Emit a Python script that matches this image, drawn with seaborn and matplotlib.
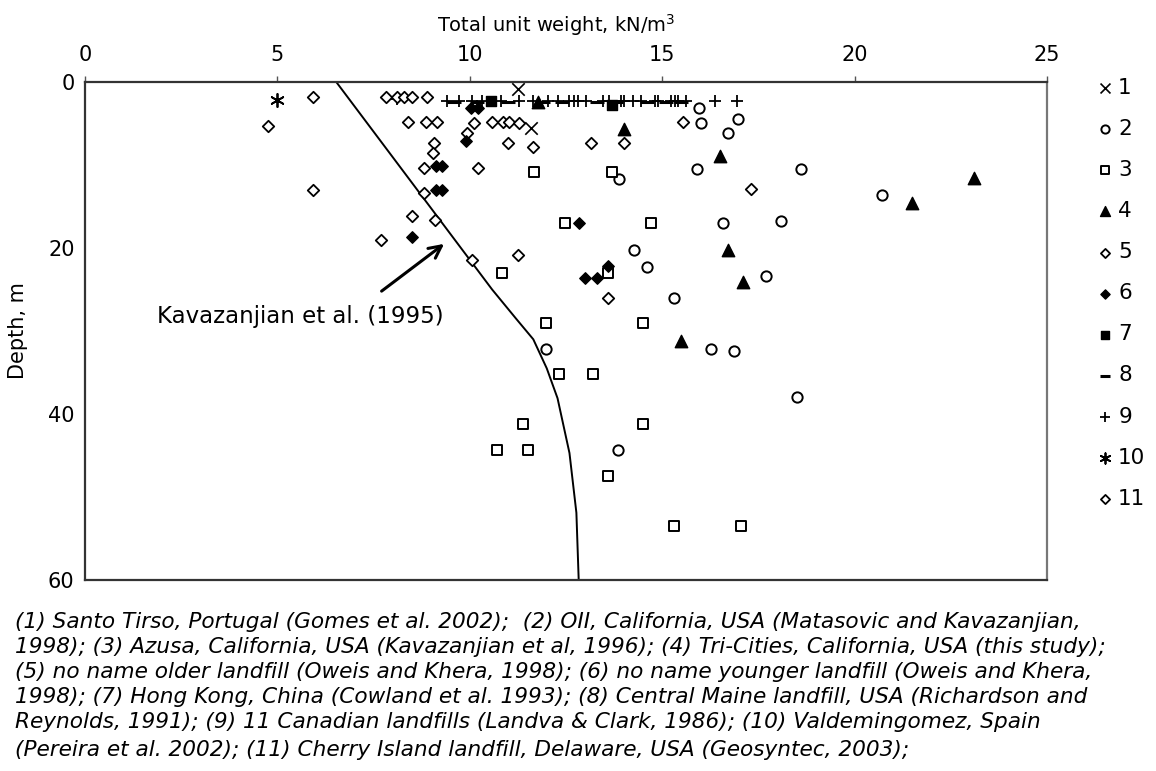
import matplotlib
matplotlib.use("Agg")
import matplotlib.pyplot as plt
import pandas as pd
import seaborn as sns

sns.set_style("white")
plt.rcParams['font.family'] = ['DejaVu Sans']
plt.rcParams['text.color'] = 'black'
plt.rcParams['axes.labelcolor'] = 'black'
plt.rcParams['xtick.color'] = 'black'
plt.rcParams['ytick.color'] = 'black'

# ---- data: total unit weight (kN/m3) and depth (m) per landfill ----
s1_w = [11.26, 11.6]
s1_d = [0.8, 5.5]

s2_w = [15.95, 16.0, 16.7, 16.96, 15.9, 13.87, 18.6, 20.7, 16.57, 18.08, 14.28,
        14.6, 17.7, 15.3, 11.97, 16.26, 16.86, 18.5, 13.84]
s2_d = [3.1, 4.9, 6.1, 4.5, 10.5, 11.7, 10.5, 13.6, 17.0, 16.7, 20.2,
        22.3, 23.4, 26.0, 32.2, 32.2, 32.4, 37.9, 44.3]

s3_w = [11.68, 13.7, 12.48, 14.7, 10.84, 13.58, 11.97, 14.5, 12.33, 13.2, 11.37,
        10.7, 11.5, 14.5, 13.58, 15.3, 17.06]
s3_d = [10.8, 10.8, 17.0, 17.0, 23.0, 23.0, 29.0, 29.0, 35.2, 35.2, 41.2,
        44.3, 44.3, 41.2, 47.5, 53.5, 53.5]

s4_w = [11.77, 14.0, 16.5, 23.1, 21.5, 16.7, 17.1, 15.5]
s4_d = [2.4, 5.7, 8.9, 11.6, 14.6, 20.2, 24.1, 31.2]

s5_w = [4.76, 5.93, 8.4, 8.85, 9.16, 10.12, 10.58, 10.85, 11.03, 11.29, 9.94,
        9.08, 9.05, 8.82, 10.22, 11.0, 11.65, 13.16, 14.0, 15.53, 17.3, 8.82,
        8.5, 9.1, 7.7, 10.07, 11.24, 13.6]
s5_d = [5.3, 13.0, 4.8, 4.8, 4.8, 4.9, 4.8, 4.8, 4.8, 4.9, 6.2,
        7.3, 8.6, 10.4, 10.4, 7.3, 7.8, 7.3, 7.3, 4.8, 12.9, 13.4,
        16.1, 16.6, 19.0, 21.4, 20.8, 26.0]

s6_w = [10.04, 10.22, 9.9, 9.13, 9.29, 9.13, 9.29, 8.5, 12.83, 13.0, 13.3, 13.6]
s6_d = [3.1, 3.1, 7.1, 10.1, 10.1, 13.0, 13.0, 18.7, 17.0, 23.6, 23.6, 22.2]

s7_w = [10.56, 13.7]
s7_d = [2.3, 2.8]

s8_w = [9.6, 10.2, 11.0, 11.9, 12.4, 13.3, 13.8, 14.6, 15.1, 15.5]
s8_d = [2.4, 2.4, 2.4, 2.4, 2.4, 2.4, 2.4, 2.4, 2.4, 2.4]

s9_w = [8.12, 9.42, 9.73, 10.07, 10.33, 10.8, 11.29, 11.63, 12.02, 12.28, 12.59,
        12.72, 12.8, 13.03, 13.45, 13.63, 13.94, 14.02, 14.23, 14.46, 14.8,
        14.88, 15.24, 15.32, 15.4, 15.63, 16.36, 16.94]
s9_d = [2.1] + [2.3] * 27

s10_w = [5.0]
s10_d = [2.2]

s11_w = [5.93, 7.83, 8.12, 8.3, 8.5, 8.9]
s11_d = [1.8, 1.8, 1.8, 1.8, 1.8, 1.8]

# Kavazanjian et al. (1995) unit weight profile
kav_w = [6.53, 7.34, 8.15, 8.96, 9.77, 10.58, 11.2, 11.65, 12.0, 12.28, 12.59, 12.77, 12.83]
kav_d = [0, 5, 10, 15, 20, 25, 28.5, 31.0, 34.5, 38.1, 44.7, 51.9, 60.0]

labels = ["1", "2", "3", "4", "5", "6", "7", "8", "9", "10", "11"]
series_w = [s1_w, s2_w, s3_w, s4_w, s5_w, s6_w, s7_w, s8_w, s9_w, s10_w, s11_w]
series_d = [s1_d, s2_d, s3_d, s4_d, s5_d, s6_d, s7_d, s8_d, s9_d, s10_d, s11_d]

# marker, face colour, size, line width
styles = {
    "1": ("x", "black", 80, 1.2),
    "2": ("o", "white", 55, 1.4),
    "3": ("s", "white", 55, 1.4),
    "4": ("^", "black", 80, 1.0),
    "5": ("D", "white", 34, 1.3),
    "6": ("D", "black", 34, 1.0),
    "7": ("s", "black", 60, 1.0),
    "8": ("_", "black", 90, 2.2),
    "9": ("+", "black", 80, 1.3),
    "10": ((6, 2, 0), "black", 90, 1.3),
    "11": ("D", "white", 34, 1.3),
}

fig = plt.figure(figsize=(11.56, 7.71), dpi=100)
ax = fig.add_axes([85 / 1156, 1 - 580 / 771, (1047 - 85) / 1156, (580 - 82) / 771])

sns.lineplot(x=kav_w, y=kav_d, ax=ax, color="black", lw=1.4, sort=False,
             estimator=None, legend=False)

for lab, w, d in zip(labels, series_w, series_d):
    mk, fc, sz, lw = styles[lab]
    df = pd.DataFrame({"w": w, "d": d})
    if fc == "white":
        sns.scatterplot(data=df, x="w", y="d", ax=ax, marker=mk, s=sz,
                        facecolor="white", edgecolor="black", linewidth=lw,
                        label=lab, zorder=3)
    else:
        sns.scatterplot(data=df, x="w", y="d", ax=ax, marker=mk, s=sz,
                        color="black", edgecolor="black", linewidth=lw,
                        label=lab, zorder=3)

ax.set_xlim(0, 25)
ax.set_ylim(60, 0)
ax.set_xticks([0, 5, 10, 15, 20, 25])
ax.set_yticks([0, 20, 40, 60])
ax.xaxis.tick_top()
ax.xaxis.set_label_position("top")
ax.tick_params(axis="both", labelsize=15, length=4, width=1, color="#555555",
               direction="out")
ax.tick_params(axis="x", pad=8)
ax.set_xlabel("Total unit weight, kN/m$^3$", fontsize=14)
ax.xaxis.set_label_coords(0.49, 1.10)
ax.set_ylabel("Depth, m", fontsize=15)
ax.yaxis.set_label_coords(-0.059, 0.5)
for sp in ax.spines.values():
    sp.set_visible(True)
    sp.set_color("#333333")
    sp.set_linewidth(1.6)
ax.spines["right"].set_color("#777777")

ax.annotate("", xy=(9.39, 19.3), xytext=(7.65, 25.4),
            arrowprops=dict(arrowstyle="->", lw=2.2, color="black",
                            mutation_scale=22))
ax.text(5.6, 28.3, "Kavazanjian et al. (1995)", fontsize=16.5,
        ha="center", va="center")

leg = ax.legend(loc="upper left", bbox_to_anchor=(1088 / 1156, 1 - 67 / 771),
                bbox_transform=fig.transFigure, frameon=False, fontsize=15.5,
                markerscale=0.8, handlelength=0.6, handletextpad=0.3,
                labelspacing=0.98, borderpad=0)

caption = [
    "(1) Santo Tirso, Portugal (Gomes et al. 2002);  (2) OII, California, USA (Matasovic and Kavazanjian,",
    "1998); (3) Azusa, California, USA (Kavazanjian et al, 1996); (4) Tri-Cities, California, USA (this study);",
    "(5) no name older landfill (Oweis and Khera, 1998); (6) no name younger landfill (Oweis and Khera,",
    "1998); (7) Hong Kong, China (Cowland et al. 1993); (8) Central Maine landfill, USA (Richardson and",
    "Reynolds, 1991); (9) 11 Canadian landfills (Landva & Clark, 1986); (10) Valdemingomez, Spain",
    "(Pereira et al. 2002); (11) Cherry Island landfill, Delaware, USA (Geosyntec, 2003);",
]
caption_y = [622, 647, 672, 697, 722, 750]
for line, yp in zip(caption, caption_y):
    fig.text(15 / 1156, 1 - yp / 771, line, fontsize=15.6, style="italic",
             ha="left", va="center")

fig.savefig("out.png", dpi=100)
